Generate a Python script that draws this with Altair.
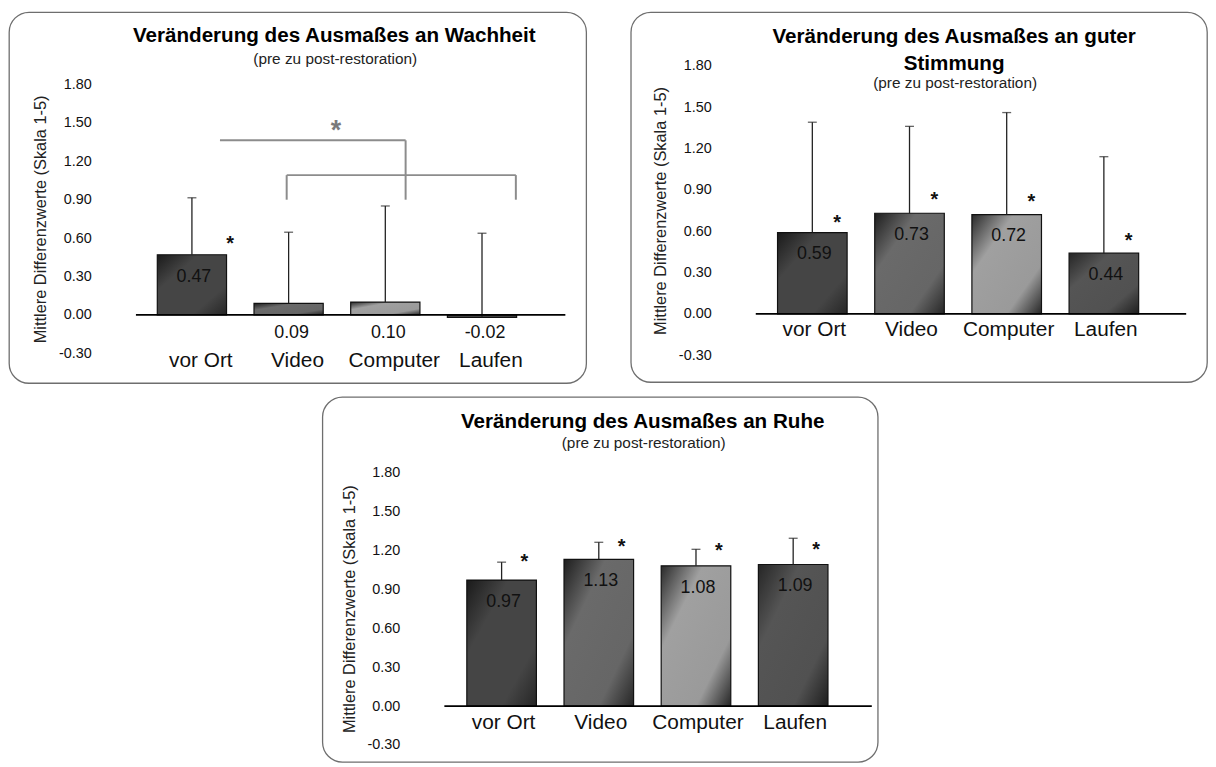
import altair as alt
import pandas as pd

cats = ["vor Ort", "Video", "Computer", "Laufen"]

# Wachheit
wach_mean = [0.47, 0.09, 0.10, -0.02]
wach_top = [0.915, 0.646, 0.851, 0.638]
wach_star = [0.595, None, None, None]

# gute Stimmung
stim_mean = [0.59, 0.73, 0.72, 0.44]
stim_top = [1.39, 1.36, 1.46, 1.14]
stim_star = [0.693, 0.861, 0.849, 0.561]

# Ruhe
ruhe_mean = [0.97, 1.13, 1.08, 1.09]
ruhe_top = [1.108, 1.261, 1.207, 1.292]
ruhe_star = [1.149, 1.266, 1.230, 1.240]

# significance brackets in the Wachheit panel (category-index units / y values)
br_x1 = [0.29, 2.21, 0.98, 0.98, 3.35]
br_x2 = [2.21, 2.21, 3.35, 0.98, 3.35]
br_y1 = [1.364, 1.364, 1.092, 1.092, 1.092]
br_y2 = [1.364, 0.90, 1.092, 0.90, 0.90]
br_star_x = [1.49]
br_star_y = [1.49]

y_ticks = [-0.3, 0.0, 0.3, 0.6, 0.9, 1.2, 1.5, 1.8]
subtitle = "(pre zu post-restoration)"
y_title = "Mittlere Differenzwerte (Skala 1-5)"

FONT = "Liberation Sans"
HYPHEN_FMT = "replace(format({v}, '.2f'), '\u2212', '-')"


def grad(c0, c1, c2, c3):
    return alt.LinearGradient(
        gradient="linear",
        x1=0, y1=0, x2=1, y2=1,
        stops=[
            alt.GradientStop(offset=0, color=c0),
            alt.GradientStop(offset=0.3, color=c1),
            alt.GradientStop(offset=0.75, color=c2),
            alt.GradientStop(offset=1, color=c3),
        ],
    )


fills = {
    "vor Ort": grad("#1a1a1a", "#454545", "#454545", "#262626"),
    "Video": grad("#1e1e1e", "#6a6a6a", "#666666", "#262626"),
    "Computer": grad("#2a2a2a", "#a0a0a0", "#9a9a9a", "#262626"),
    "Laufen": grad("#262626", "#555555", "#515151", "#1e1e1e"),
}


def panel(titles, title_cx, sub_y, mean, top, star, box_w, box_h,
          xrange, yrange, xdom, label_dy, label_dx, star_dx, brackets=False):
    df = pd.DataFrame({"cat": cats, "idx": [0, 1, 2, 3], "v": mean,
                       "top": top, "star": star})
    xs = alt.Scale(domain=xdom, range=xrange, nice=False, zero=False)
    ys = alt.Scale(domain=[-0.3, 1.8], range=yrange, nice=False, zero=False)
    yaxis = alt.Axis(values=y_ticks, title=y_title,
                     labelExpr=HYPHEN_FMT.format(v="datum.value"),
                     ticks=False, tickSize=0, domain=False, grid=False,
                     offset=-xrange[0],
                     labelPadding=45, labelFontSize=14.5,
                     labelColor="#111", labelFont=FONT,
                     titleFont=FONT, titleFontSize=16.5,
                     titleFontWeight="normal", titleColor="#222",
                     titlePadding=10)
    base = alt.Chart(df).transform_calculate(
        lab=HYPHEN_FMT.format(v="datum.v"))
    one = alt.Chart(pd.DataFrame({"k": [0]}))
    X = lambda f: alt.X(f, scale=xs, axis=None)
    Y = lambda f: alt.Y(f, scale=ys, axis=yaxis)

    layers = []
    for c in cats:
        layers.append(
            base.transform_filter(alt.datum.cat == c)
            .transform_calculate(x0="datum.idx - 0.358", x1="datum.idx + 0.358", z="0")
            .mark_bar(fill=fills[c], stroke="#111", strokeWidth=1.2)
            .encode(x=X("x0:Q"), x2="x1:Q", y=Y("v:Q"), y2="z:Q"))

    layers.append(base.mark_rule(color="#222", strokeWidth=1.3).encode(
        x=X("idx:Q"), y=Y("v:Q"), y2="top:Q"))
    layers.append(base.mark_tick(orient="horizontal", size=9, thickness=1.3,
                                 color="#222").encode(x=X("idx:Q"), y=Y("top:Q")))

    layers.append(one.transform_calculate(
        z="0", xa=str(xdom[0]), xb=str(xdom[1])).mark_rule(
        color="black", strokeWidth=1.8).encode(x=X("xa:Q"), x2="xb:Q", y=Y("z:Q")))

    layers.append(base.transform_filter("datum.v >= 0.3").mark_text(
        dy=22, dx=2, fontSize=18, baseline="middle", color="#111", font=FONT)
        .encode(x=X("idx:Q"), y=Y("v:Q"), text="lab:N"))
    layers.append(base.transform_filter("datum.v < 0.3").transform_calculate(z="0")
        .mark_text(dy=18, dx=3, fontSize=18, baseline="middle", color="#111", font=FONT)
        .encode(x=X("idx:Q"), y=Y("z:Q"), text="lab:N"))

    layers.append(base.transform_calculate(z="0").mark_text(
        dy=label_dy, dx=label_dx, fontSize=21, baseline="middle",
        color="#111", font=FONT)
        .encode(x=X("idx:Q"), y=Y("z:Q"), text="cat:N"))

    layers.append(base.transform_filter("isValid(datum.star)").mark_text(
        text="*", fontSize=20, fontWeight="bold", dx=star_dx, dy=11,
        baseline="alphabetic", color="#111", font=FONT)
        .encode(x=X("idx:Q"), y=Y("star:Q")))

    if brackets:
        bdf = pd.DataFrame({"x1": br_x1, "x2": br_x2, "y1": br_y1, "y2": br_y2})
        layers.append(alt.Chart(bdf).mark_rule(color="#8c8c8c", strokeWidth=2).encode(
            x=X("x1:Q"), x2="x2:Q", y=Y("y1:Q"), y2="y2:Q"))
        sdf = pd.DataFrame({"sx": br_star_x, "sy": br_star_y})
        layers.append(alt.Chart(sdf).mark_text(
            text="*", fontSize=27, fontWeight="bold", dy=15,
            baseline="alphabetic", color="#7a7a7a", font=FONT)
            .encode(x=X("sx:Q"), y=Y("sy:Q")))

    for txt, ty in titles:
        layers.append(one.mark_text(text=txt, fontSize=20.8, fontWeight="bold",
                                    baseline="alphabetic", color="#000", font=FONT)
                      .encode(x=alt.value(title_cx), y=alt.value(ty)))
    layers.append(one.mark_text(text=subtitle, fontSize=15.5, baseline="alphabetic",
                                color="#222", font=FONT)
                  .encode(x=alt.value(title_cx + 1), y=alt.value(sub_y)))

    return alt.layer(*layers).properties(
        width=box_w, height=box_h,
        view=alt.ViewBackground(stroke="#6e6e6e", strokeWidth=1.3,
                                cornerRadius=20, fill="white"))


tl = panel([("Veränderung des Ausmaßes an Wachheit", 30)], 328, 52,
           wach_mean, wach_top, wach_star, 582, 374,
           [128, 561], [344, 73], [-0.579, 3.862], 47, 9, 38.5, brackets=True)
tr = panel([("Veränderung des Ausmaßes an guter", 31), ("Stimmung", 58)], 326, 77,
           stim_mean, stim_top, stim_star, 581, 373,
           [126, 560], [346, 54], [-0.582, 3.847], 16.5, 2, 25)
bo = panel([("Veränderung des Ausmaßes an Ruhe", 31)], 323, 51.5,
           ruhe_mean, ruhe_top, ruhe_star, 560, 368,
           [123, 554], [351, 76], [-0.589, 3.809], 17.5, 2, 23)

spacer = alt.Chart(pd.DataFrame({"k": [0]})).mark_text(text=" ", fontSize=1).encode(
    x=alt.value(20), y=alt.value(5)).properties(
    width=314, height=10,
    view=alt.ViewBackground(stroke="transparent"))

top_row = alt.hconcat(tl, tr, spacing=43)
bottom_row = alt.hconcat(spacer, bo, spacing=0)
chart = alt.vconcat(top_row, bottom_row, spacing=12).properties(
    padding={"left": 0, "top": 0, "right": 0, "bottom": 0}
).configure(font=FONT).configure_view(stroke="transparent")

chart.save("out.html", embed_options={"renderer": "svg", "actions": False})
